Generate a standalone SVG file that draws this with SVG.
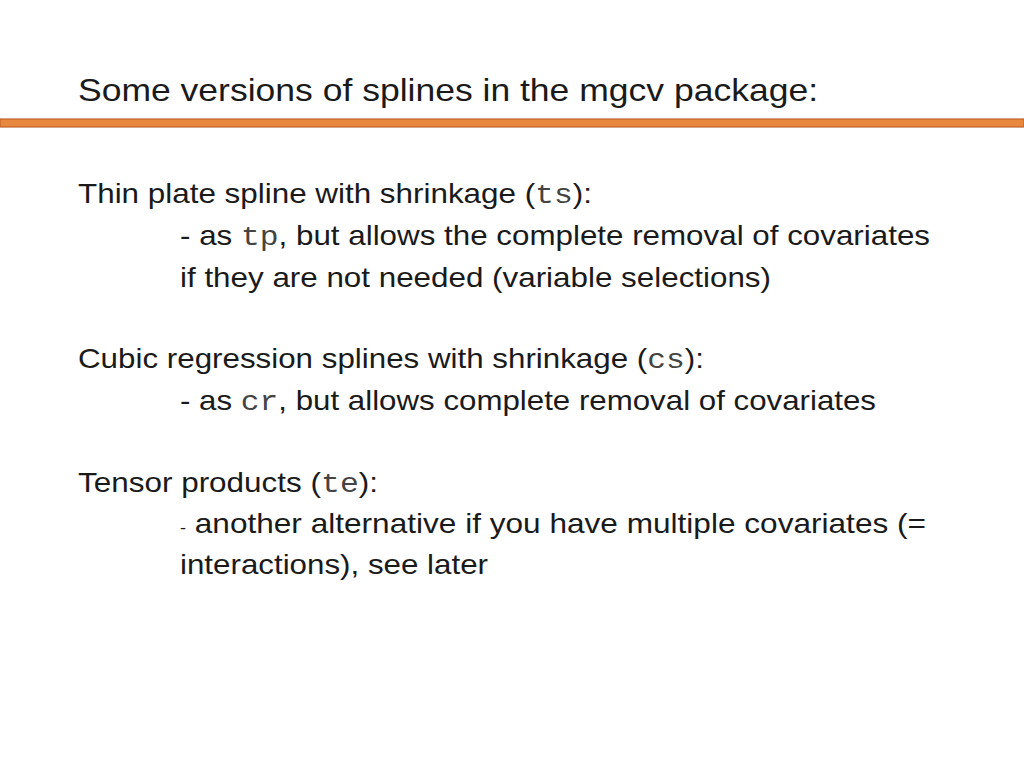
<svg xmlns="http://www.w3.org/2000/svg" width="1024" height="768" viewBox="0 0 1024 768">
<style>
.t{font-family:"Liberation Sans",Arial,sans-serif;fill:#1a1a1a}
.b{font-size:28px}
.m{font-family:"Liberation Mono","Courier New",monospace;fill:#444}
</style>
<rect width="1024" height="768" fill="#fff"/>
<text class="t" x="78" y="101" font-size="32" textLength="740" lengthAdjust="spacingAndGlyphs">Some versions of splines in the mgcv package:</text>
<rect x="0" y="119" width="1024" height="8" fill="#E8883F" stroke="#C0642A" stroke-width="1.2"/>
<g class="t b">
<text x="78" y="203" textLength="514" lengthAdjust="spacingAndGlyphs">Thin plate spline with shrinkage (<tspan class="m">ts</tspan>):</text>
<text x="180" y="245" textLength="750" lengthAdjust="spacingAndGlyphs">- as <tspan class="m">tp</tspan>, but allows the complete removal of covariates</text>
<text x="180" y="287" textLength="591" lengthAdjust="spacingAndGlyphs">if they are not needed (variable selections)</text>
<text x="78" y="368" textLength="626" lengthAdjust="spacingAndGlyphs">Cubic regression splines  with shrinkage (<tspan class="m">cs</tspan>):</text>
<text x="180" y="410" textLength="696" lengthAdjust="spacingAndGlyphs">- as <tspan class="m">cr</tspan>, but allows complete removal of covariates</text>
<text x="78" y="492" textLength="300" lengthAdjust="spacingAndGlyphs">Tensor products (<tspan class="m">te</tspan>):</text>
<text x="180" y="533" textLength="746" lengthAdjust="spacingAndGlyphs"><tspan font-size="16">-</tspan> another alternative if you have multiple covariates (=</text>
<text x="180" y="574" textLength="308" lengthAdjust="spacingAndGlyphs">interactions), see later</text>
</g>
</svg>
